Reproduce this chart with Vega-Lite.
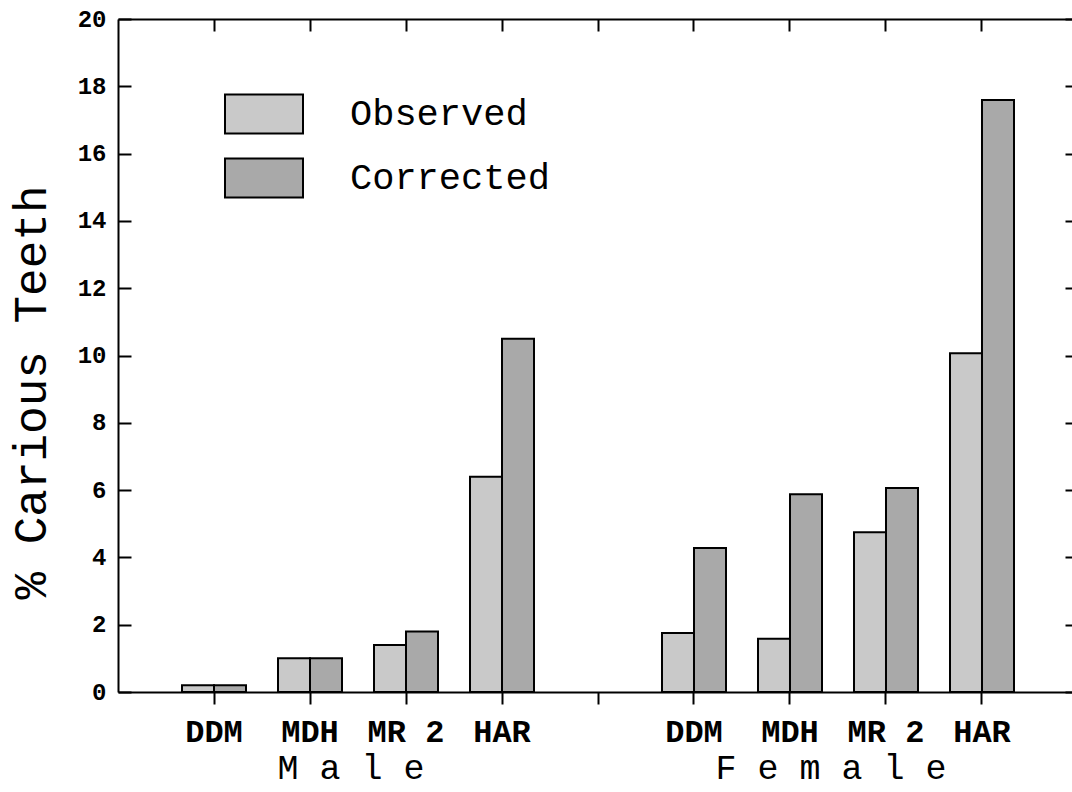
{
  "$schema": "https://vega.github.io/schema/vega-lite/v6.json",
  "width": 960,
  "height": 673,
  "autosize": {"type": "none"},
  "padding": {"left": 118, "top": 19, "right": 0, "bottom": 100},
  "background": "white",
  "config": {
    "view": {"stroke": null},
    "font": "Liberation Mono",
    "axis": {"domainColor": "black", "domainWidth": 2, "tickColor": "black", "tickWidth": 2, "labelColor": "black", "titleColor": "black", "grid": false, "labelFont": "Liberation Mono", "titleFont": "Liberation Mono"}
  },
  "data": {
    "values": [
      {"sex": "Male", "site": "DDM", "slot": "M-DDM", "series": "Observed", "value": 0.2},
      {"sex": "Male", "site": "DDM", "slot": "M-DDM", "series": "Corrected", "value": 0.2},
      {"sex": "Male", "site": "MDH", "slot": "M-MDH", "series": "Observed", "value": 1.0},
      {"sex": "Male", "site": "MDH", "slot": "M-MDH", "series": "Corrected", "value": 1.0},
      {"sex": "Male", "site": "MR 2", "slot": "M-MR 2", "series": "Observed", "value": 1.4},
      {"sex": "Male", "site": "MR 2", "slot": "M-MR 2", "series": "Corrected", "value": 1.8},
      {"sex": "Male", "site": "HAR", "slot": "M-HAR", "series": "Observed", "value": 6.4},
      {"sex": "Male", "site": "HAR", "slot": "M-HAR", "series": "Corrected", "value": 10.5},
      {"sex": "Female", "site": "DDM", "slot": "F-DDM", "series": "Observed", "value": 1.75},
      {"sex": "Female", "site": "DDM", "slot": "F-DDM", "series": "Corrected", "value": 4.28},
      {"sex": "Female", "site": "MDH", "slot": "F-MDH", "series": "Observed", "value": 1.58},
      {"sex": "Female", "site": "MDH", "slot": "F-MDH", "series": "Corrected", "value": 5.88},
      {"sex": "Female", "site": "MR 2", "slot": "F-MR 2", "series": "Observed", "value": 4.75},
      {"sex": "Female", "site": "MR 2", "slot": "F-MR 2", "series": "Corrected", "value": 6.06},
      {"sex": "Female", "site": "HAR", "slot": "F-HAR", "series": "Observed", "value": 10.07},
      {"sex": "Female", "site": "HAR", "slot": "F-HAR", "series": "Corrected", "value": 17.59}
    ]
  },
  "layer": [
    {
      "mark": {"type": "bar", "stroke": "black", "strokeWidth": 2},
      "encoding": {
        "x": {
          "field": "slot", "type": "nominal",
          "scale": {"type": "band", "domain": ["M-DDM", "M-MDH", "M-MR 2", "M-HAR", "gap", "F-DDM", "F-MDH", "F-MR 2", "F-HAR"], "paddingInner": 0.33333, "paddingOuter": 0.66667},
          "axis": {"orient": "bottom", "title": null, "labelExpr": "datum.value == 'gap' ? '' : slice(datum.value, 2)", "labelFontWeight": "bold", "labelFontSize": 32, "labelAngle": 0, "labelPadding": 12, "labelBaseline": "top", "tickSize": 12, "domain": true, "labelOverlap": false, "labelLimit": 0}
        },
        "xOffset": {"field": "series", "type": "nominal", "scale": {"domain": ["Observed", "Corrected"], "paddingInner": 0, "paddingOuter": 0}},
        "y": {
          "field": "value", "type": "quantitative",
          "scale": {"domain": [0, 20], "nice": false},
          "axis": {"orient": "left", "values": [0, 2, 4, 6, 8, 10, 12, 14, 16, 18, 20], "ticks": false, "domain": true, "labelFontWeight": "bold", "labelFontSize": 24, "labelPadding": 12, "title": "% Carious Teeth", "titleFontSize": 46, "titleFontWeight": "normal", "titleX": -87, "titleY": 373, "titleAngle": -90, "titleBaseline": "middle", "titleAlign": "center"}
        },
        "color": {
          "field": "series", "type": "nominal",
          "scale": {"domain": ["Observed", "Corrected"], "range": ["#c9c9c9", "#a9a9a9"]},
          "legend": {"orient": "none", "legendX": 106, "legendY": 55, "title": null, "symbolType": "M-1,-0.5H1V0.5H-1Z", "symbolSize": 6084, "symbolStrokeColor": "black", "symbolStrokeWidth": 2, "symbolOpacity": 1, "labelFont": "Liberation Mono", "labelFontSize": 37, "labelColor": "black", "labelOffset": 46, "labelLimit": 0, "rowPadding": -2}
        }
      }
    },
    {
      "mark": {"type": "bar", "opacity": 0},
      "encoding": {
        "x": {"field": "slot", "type": "nominal", "axis": {"orient": "top", "title": null, "labels": false, "tickSize": -12, "domain": true}},
        "xOffset": {"field": "series", "type": "nominal"},
        "y": {"field": "value", "type": "quantitative", "axis": {"orient": "right", "title": null, "labels": false, "values": [0, 2, 4, 6, 8, 10, 12, 14, 16, 18, 20], "tickSize": -13, "domain": true}}
      }
    },
    {
      "mark": {"type": "bar", "opacity": 0},
      "encoding": {
        "x": {"field": "slot", "type": "nominal", "axis": {"orient": "bottom", "title": null, "domain": false, "ticks": false, "labelExpr": "datum.value == 'M-MDH' ? 'M a l e' : datum.value == 'F-MDH' ? 'F e m a l e' : ''", "labelOffset": 41, "labelPadding": 58, "labelFontSize": 35, "labelFontWeight": "normal", "labelAngle": 0, "labelBaseline": "top", "labelLimit": 0, "labelOverlap": false}},
        "xOffset": {"field": "series", "type": "nominal"},
        "y": {"field": "value", "type": "quantitative", "axis": {"orient": "left", "title": null, "labels": false, "values": [0, 2, 4, 6, 8, 10, 12, 14, 16, 18, 20], "tickSize": -13, "domain": false}}
      }
    }
  ],
  "resolve": {"axis": {"x": "independent", "y": "independent"}}
}
